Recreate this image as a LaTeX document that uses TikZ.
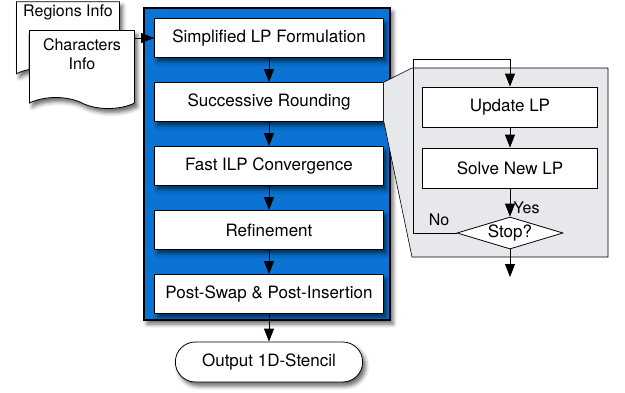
\documentclass[tikz,border=0pt]{standalone}
\usepackage{fontspec}
\setmainfont{TeX Gyre Heros}
\usepackage{tikz}
\usetikzlibrary{arrows.meta, positioning, shapes, shadows.blur}
\definecolor{flowblue}{HTML}{0A73D3}
\definecolor{zoomgray}{HTML}{E7E8EC}
\newcommand{\stagefont}{\fontsize{17}{20}\selectfont}
\newcommand{\docfont}{\fontsize{16}{19}\selectfont}
\tikzset{
		flow/.style={-{Triangle[length=13pt, width=10pt, fill=black]}, draw=black},
		soft shadow/.style={blur shadow={shadow xshift=3pt, shadow yshift=-4pt, shadow opacity=60, shadow blur radius=4pt}},
		stage/.style={draw, fill=white, minimum width=229pt, minimum height=39pt, inner sep=2pt, font=\stagefont, soft shadow},
		inner stage/.style={draw, fill=white, minimum width=175pt, minimum height=40pt, inner sep=2pt, font=\stagefont},
		decision/.style={draw, fill=white, diamond, aspect=3.3, minimum width=106pt, minimum height=32pt, inner sep=0pt, font=\stagefont},
		terminal/.style={draw, fill=white, rounded rectangle, minimum width=194pt, minimum height=40pt, font=\stagefont, soft shadow},
		doc/.style={draw, fill=white, tape, tape bend top=none, tape bend bottom=out and in, tape bend height=11pt, align=center, font=\docfont, soft shadow}
	}

\begin{document}
\begin{tikzpicture}[x=1pt, y=1pt, line width=0.8pt, node distance=64pt]
	\useasboundingbox (0,0) rectangle (625,-392);

	% input files
	\node[doc, minimum width=103pt, minimum height=76pt, text depth=48pt] (regions) at (68,-35) {Regions Info};
	\node[doc, minimum width=105pt, minimum height=78pt, text depth=20pt] (chars) at (82,-64) {Characters\\Info};

	% blue frame of the main flow
	\draw[fill=flowblue, line width=1.2pt, soft shadow] (144,-8) rectangle (390,-320);

	\node[stage]                    (simp)   at (269,-38)          {Simplified LP Formulation};
	\node[stage]                    (round)  [below of = simp]     {Successive Rounding};
	\node[stage]                    (fast)   [below of = round]    {Fast ILP Convergence};
	\node[stage]                    (refine) [below of = fast]     {Refinement};
	\node[stage]                    (post)   [below of = refine]   {Post-Swap \& Post-Insertion};
	\node[terminal, node distance=68pt] (out) [below of = post]    {Output 1D-Stencil};

	\draw[flow] (chars.east |- simp.west) -- (simp.west);
	\draw[flow] (simp.south) -- (round.north);
	\draw[flow] (round.south) -- (fast.north);
	\draw[flow] (fast.south) -- (refine.north);
	\draw[flow] (refine.south) -- (post.north);
	\draw[flow] (post.south) -- (out.north);

	% zoom into successive rounding
	\draw[fill=zoomgray, line width=0.6pt] (round.south east) -- (412,-257) -- (608,-257) -- (608,-68) -- (412,-68) -- (round.north east);

	\node[inner stage]                    (upd)   at (510,-107)        {Update LP};
	\node[inner stage, node distance=61pt] (solve) [below of = upd]   {Solve New LP};
	\node[decision, node distance=65pt]    (stop)  [below of = solve] {Stop?};
	\coordinate (back) at (413,-59);
	\coordinate (exit) at (510,-277);

	\draw[flow] (upd.south) -- (solve.north);
	\draw[flow] (solve.south) -- node[right, pos=0.7, font=\docfont, inner sep=3pt] {Yes} (stop.north);
	\draw[flow] (stop.west) -| node[above=4pt, pos=0.2, font=\docfont] {No} (back) -| (upd.north);
	\draw[flow] (stop.south) -- (exit);
\end{tikzpicture}
\end{document}
